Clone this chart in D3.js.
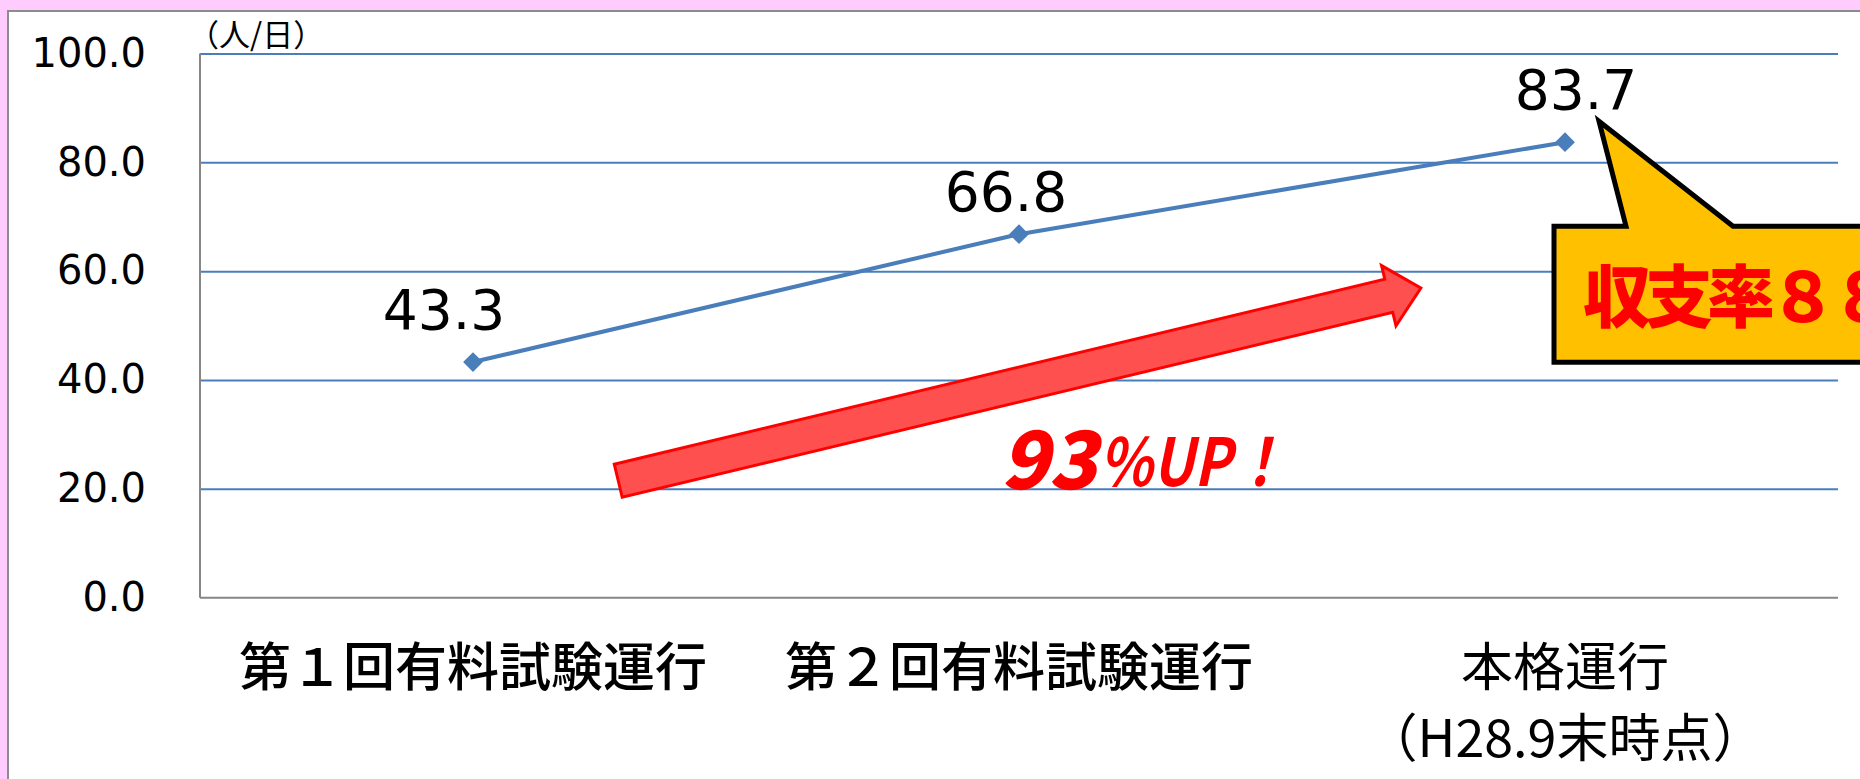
<!DOCTYPE html>
<html>
<head>
<meta charset="utf-8">
<script src="https://cdnjs.cloudflare.com/ajax/libs/d3/7.8.5/d3.min.js"></script>
<style>
body { margin: 0; background: #fff; }
svg { display: block; }
.tickLabel { font-family: "DejaVu Sans", sans-serif; font-size: 40px; fill: #000; }
.valueLabel { font-family: "DejaVu Sans", sans-serif; font-size: 55px; fill: #000; }
.catLabel { font-family: "Noto Sans CJK JP", sans-serif; font-size: 52px; fill: #000; }
</style>
</head>
<body>
<script>
// data
var categories = ["第１回有料試験運行", "第２回有料試験運行", "本格運行\n（H28.9末時点）"];
var values = [43.3, 66.8, 83.7];
var yTicks = [0, 20, 40, 60, 80, 100];
var unitLabel = "（人/日）";
var upNumber = "93";
var upSuffix = "%UP！";
var calloutText = "収支率８８％";

// layout
var width = 1860, height = 779;
var plot = { left: 200, right: 1838, top: 53.5, bottom: 597.7 };
var labelDx = [-29, -13, 11];
var labelDy = [-33, -23, -33];

var svg = d3.select("body").append("svg")
  .attr("width", width)
  .attr("height", height);

// pink frame + chart area
svg.append("rect").attr("width", width).attr("height", height).attr("fill", "#ffccff");
svg.append("rect")
  .attr("x", 8).attr("y", 11)
  .attr("width", width + 20).attr("height", height + 20)
  .attr("fill", "#fff")
  .attr("stroke", "#8c8c8c")
  .attr("stroke-width", 2);

var x = d3.scalePoint()
  .domain(categories)
  .range([plot.left, plot.right])
  .padding(0.5);

var y = d3.scaleLinear()
  .domain([0, 100])
  .range([plot.bottom, plot.top]);

// continuous position between categories, used for annotations
var xi = d3.scaleLinear()
  .domain([0, categories.length - 1])
  .range([x(categories[0]), x(categories[categories.length - 1])]);

// gridlines
svg.append("g")
  .attr("class", "grid")
  .attr("transform", `translate(${plot.left},0)`)
  .call(d3.axisLeft(y).tickValues(yTicks.filter(d => d > 0)).tickSize(-(plot.right - plot.left)).tickFormat(""))
  .call(g => g.select(".domain").remove())
  .selectAll(".tick line")
  .attr("stroke", "#4a7ebb")
  .attr("stroke-width", 2);

// y tick labels
svg.append("g")
  .attr("transform", `translate(${plot.left},0)`)
  .call(d3.axisLeft(y).tickValues(yTicks).tickSize(0).tickPadding(54).tickFormat(d3.format(".1f")))
  .call(g => g.select(".domain").remove())
  .selectAll(".tick text")
  .attr("class", "tickLabel")
  .attr("font-family", null)
  .attr("font-size", null);

// axis lines
svg.append("line")
  .attr("x1", plot.left).attr("x2", plot.left)
  .attr("y1", plot.top).attr("y2", plot.bottom)
  .attr("stroke", "#868686").attr("stroke-width", 2);
svg.append("line")
  .attr("x1", plot.left).attr("x2", plot.right)
  .attr("y1", plot.bottom).attr("y2", plot.bottom)
  .attr("stroke", "#868686").attr("stroke-width", 2);

// unit label
svg.append("text")
  .attr("x", 188)
  .attr("y", 46)
  .style("font-family", '"Noto Sans CJK JP", sans-serif')
  .style("font-size", "31px")
  .text(unitLabel);

// category labels
var cats = svg.selectAll("text.catLabel")
  .data(categories)
  .enter()
  .append("text")
  .attr("class", "catLabel")
  .attr("text-anchor", "middle")
  .style("font-weight", (d, i) => i < 2 ? 500 : 400)
  .attr("y", 686);

cats.selectAll("tspan")
  .data(d => d.split("\n").map(s => ({ s: s, c: d })))
  .enter()
  .append("tspan")
  .attr("x", d => x(d.c))
  .attr("dy", (d, i) => i === 0 ? 0 : 71)
  .text(d => d.s);

// red block arrow
var a0 = [xi(0.266), y(21.5)];
var a1 = [xi(1.736), y(56.9)];
var dx = a1[0] - a0[0], dy = a1[1] - a0[1];
var len = Math.sqrt(dx * dx + dy * dy);
var ux = dx / len, uy = dy / len, nx = -uy, ny = ux;
var shaftW = 17, headL = 33, headW = 31;
function pt(along, across) {
  return [a0[0] + ux * along + nx * across, a0[1] + uy * along + ny * across];
}
var arrowPts = [
  pt(0, -shaftW), pt(len - headL, -shaftW), pt(len - headL, -headW),
  pt(len, 0),
  pt(len - headL, headW), pt(len - headL, shaftW), pt(0, shaftW)
];
svg.append("path")
  .attr("d", "M" + arrowPts.map(p => p.join(",")).join("L") + "Z")
  .attr("fill", "#ff5050")
  .attr("stroke", "#ff0000")
  .attr("stroke-width", 3)
  .attr("stroke-linejoin", "miter");

// 93%UP!
svg.append("text")
  .attr("x", xi(0.965))
  .attr("y", y(20.0))
  .attr("textLength", 97)
  .attr("lengthAdjust", "spacingAndGlyphs")
  .style("font-family", '"Noto Sans CJK JP", sans-serif')
  .style("font-weight", "900")
  .style("font-style", "italic")
  .style("font-size", "80px")
  .style("fill", "#ff0000")
  .text(upNumber);
svg.append("text")
  .attr("x", xi(0.965) + 99)
  .attr("y", y(20.5))
  .attr("textLength", 188)
  .attr("lengthAdjust", "spacingAndGlyphs")
  .style("font-family", '"Noto Sans CJK JP", sans-serif')
  .style("font-weight", "700")
  .style("font-style", "italic")
  .style("font-size", "66px")
  .style("fill", "#ff0000")
  .text(upSuffix);

// series line
var line = d3.line()
  .x((d, i) => x(categories[i]))
  .y(d => y(d));

svg.append("path")
  .datum(values)
  .attr("fill", "none")
  .attr("stroke", "#4a7ebb")
  .attr("stroke-width", 4)
  .attr("d", line);

svg.selectAll("path.marker")
  .data(values)
  .enter()
  .append("path")
  .attr("class", "marker")
  .attr("d", d3.symbol(d3.symbolSquare, 196))
  .attr("transform", (d, i) => `translate(${x(categories[i])},${y(d)}) rotate(45)`)
  .attr("fill", "#4a7ebb");

// value labels
svg.selectAll("text.valueLabel")
  .data(values)
  .enter()
  .append("text")
  .attr("class", "valueLabel")
  .attr("text-anchor", "middle")
  .attr("x", (d, i) => x(categories[i]) + labelDx[i])
  .attr("y", (d, i) => y(d) + labelDy[i])
  .text(d => d3.format(".1f")(d));

// callout bubble pointing at the last label
var cx = x(categories[2]), cy = y(values[2]);
var box = { left: cx - 11, top: cy + 84, bottom: cy + 220, right: width + 60 };
var tip = [cx + 34, cy - 21];
var bubble = [
  [box.left, box.top], [cx + 61, box.top], tip, [cx + 168, box.top],
  [box.right, box.top], [box.right, box.bottom], [box.left, box.bottom]
];
svg.append("path")
  .attr("d", "M" + bubble.map(p => p.join(",")).join("L") + "Z")
  .attr("fill", "#ffc000")
  .attr("stroke", "#000")
  .attr("stroke-width", 5)
  .attr("stroke-linejoin", "miter");

// the reference crops this text at the right edge
svg.append("text")
  .attr("x", box.left + 29)
  .attr("y", box.top + 96)
  .style("font-family", '"Noto Sans CJK JP", sans-serif')
  .style("font-weight", "900")
  .style("font-size", "68px")
  .style("letter-spacing", "-6px")
  .style("fill", "#ff0000")
  .text(calloutText);
</script>
</body>
</html>
